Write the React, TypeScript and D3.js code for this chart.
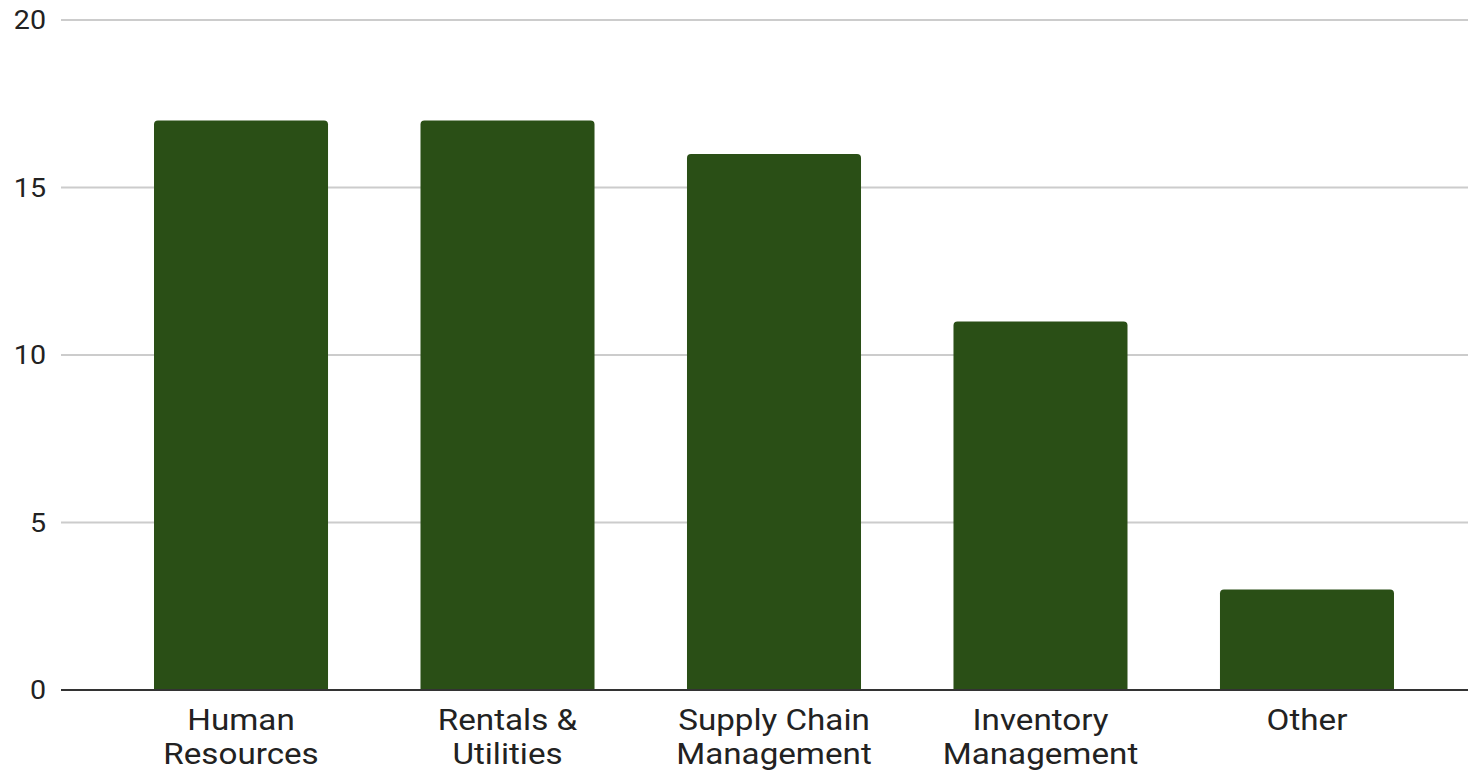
import React, { useEffect, useRef } from 'react';
import * as d3 from 'd3';

const categories = [
  ['Human', 'Resources'],
  ['Rentals &', 'Utilities'],
  ['Supply Chain', 'Management'],
  ['Inventory', 'Management'],
  ['Other'],
];
const values = [17, 17, 16, 11, 3];
const yTicks = [0, 5, 10, 15, 20];

const WIDTH = 1468;
const HEIGHT = 770;
const BAR_COLOR = '#2a4f16';
// glyphs in the picture are a little wider than plain Roboto
const STRETCH = 1.145;

function roundedTop(x: number, y: number, w: number, h: number, r: number): string {
  const rr = Math.min(r, h, w / 2);
  return `M${x},${y + h}V${y + rr}Q${x},${y} ${x + rr},${y}H${x + w - rr}Q${x + w},${y} ${x + w},${y + rr}V${y + h}Z`;
}

export default function App() {
  const ref = useRef<SVGSVGElement>(null);

  useEffect(() => {
    const svg = d3.select(ref.current);
    svg.selectAll('*').remove();

    const keys = categories.map(c => c.join(' '));

    const x = d3.scaleBand()
      .domain(keys)
      .range([61, 1487])
      .paddingInner(0.347)
      .paddingOuter(0.349);

    const y = d3.scaleLinear()
      .domain([0, 20])
      .range([690, 20]);

    // gridlines
    svg.append('g')
      .selectAll('line')
      .data(yTicks.filter(t => t !== 0))
      .enter().append('line')
      .attr('x1', 61)
      .attr('x2', WIDTH)
      .attr('y1', d => y(d))
      .attr('y2', d => y(d))
      .attr('stroke', '#cccccc')
      .attr('stroke-width', 2);

    // y tick labels
    svg.append('g')
      .selectAll('text')
      .data(yTicks)
      .enter().append('text')
      .attr('transform', d => `translate(46, ${y(d) + 9}) scale(${STRETCH}, 1)`)
      .attr('text-anchor', 'end')
      .attr('font-family', 'Roboto')
      .attr('font-size', 25)
      .attr('fill', '#222')
      .text(d => d);

    // bars
    svg.append('g')
      .selectAll('path')
      .data(values)
      .enter().append('path')
      .attr('fill', BAR_COLOR)
      .attr('d', (d, i) => roundedTop(x(keys[i]) as number, y(d), x.bandwidth(), y(0) - y(d), 4));

    // baseline
    svg.append('line')
      .attr('x1', 61)
      .attr('x2', WIDTH)
      .attr('y1', y(0))
      .attr('y2', y(0))
      .attr('stroke', '#333333')
      .attr('stroke-width', 2);

    // category labels
    const labels = svg.append('g')
      .selectAll('text')
      .data(categories)
      .enter().append('text')
      .attr('transform', (d, i) => `translate(${(x(keys[i]) as number) + x.bandwidth() / 2}, 730) scale(${STRETCH}, 1)`)
      .attr('text-anchor', 'middle')
      .attr('font-family', 'Roboto')
      .attr('font-size', 29)
      .attr('fill', '#222');

    labels.selectAll('tspan')
      .data(d => d)
      .enter().append('tspan')
      .attr('x', 0)
      .attr('dy', (d, i) => (i === 0 ? 0 : 34))
      .text(d => d);
  }, []);

  return (
    <svg
      ref={ref}
      width={WIDTH}
      height={HEIGHT}
      style={{ position: 'absolute', left: 0, top: 0, background: '#fff' }}
    />
  );
}
